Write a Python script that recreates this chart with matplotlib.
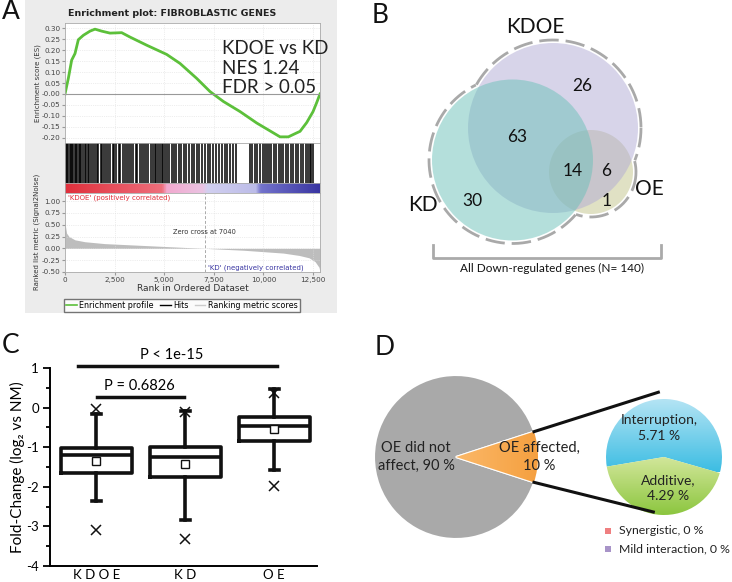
import numpy as np
import matplotlib
matplotlib.use('Agg')
import matplotlib.pyplot as plt
from matplotlib.colors import LinearSegmentedColormap
from matplotlib.lines import Line2D
from matplotlib.patches import Circle, Rectangle

plt.rcParams['font.family'] = ['Lato', 'DejaVu Sans']

W, H = 732, 582

# ---------------- data ----------------
# A: GSEA running enrichment score
es_rank = [0, 168, 336, 504, 672, 924, 1260, 1512, 1848, 2268, 2856, 3276, 4116, 5124,
           5796, 6636, 7308, 7980, 8820, 9660, 10500, 10836, 11256, 11676, 11844, 12180,
           12500, 12680, 12850]
es_score = [0.0, 0.071, 0.154, 0.184, 0.247, 0.267, 0.286, 0.295, 0.286, 0.277, 0.279,
            0.259, 0.222, 0.18, 0.139, 0.071, 0.011, -0.034, -0.08, -0.132, -0.177, -0.195,
            -0.195, -0.177, -0.17, -0.13, -0.08, -0.04, 0.0]
hits = [15, 60, 110, 170, 230, 300, 350, 420, 480, 560, 610, 700, 760, 830, 900, 990, 1060,
        1150, 1230, 1330, 1410, 1500, 1600, 1680, 1790, 1880, 1960, 2080, 2170, 2260, 2400,
        2480, 2590, 2700, 2790, 2900, 3010, 3120, 3240, 3330, 3450, 3560, 3640, 3760, 3880,
        3990, 4080, 4200, 4310, 4420, 4530, 4610, 4700, 4790, 4880, 4960, 5040, 5130, 5250,
        5370, 5480, 5600, 5730, 5850, 5980, 6110, 6240, 6380, 6500, 6630, 6770, 6900, 7040,
        7190, 7330, 7480, 7620, 7760, 7900, 8040, 8180, 8330, 8480, 8640, 9300, 9420, 9560,
        9700, 9830, 9960, 10080, 10190, 10300, 10400, 10520, 10640, 10760, 10880, 11000,
        11120, 11250, 11380, 11500, 11630, 11760, 11880, 12000, 12120, 12240, 12330, 12420,
        12520]
metric_rank = [0, 30, 80, 200, 500, 1000, 2000, 3000, 4000, 5000, 6000, 7040, 8000, 9000,
               10000, 11000, 11800, 12300, 12600, 12800, 12850]
metric_val = [0.6, 0.45, 0.32, 0.25, 0.18, 0.14, 0.1, 0.08, 0.06, 0.04, 0.02, 0.0, -0.02,
              -0.04, -0.07, -0.1, -0.15, -0.2, -0.28, -0.4, -0.5]
zero_cross = 7040
n_genes = 12850

# B: Venn of down-regulated genes
set_names = ['KDOE', 'KD', 'OE']
region_counts = [26, 63, 30, 14, 6, 1]   # KDOE only, KDOE&KD, KD only, all three, KDOE&OE, OE only
total_genes = 140

# C: fold change box plots
box_names = ['K D O E', 'K D', 'O E']
box_q1 = [-1.64, -1.75, -0.85]
box_q3 = [-1.03, -1.00, -0.25]
box_med = [-1.19, -1.26, -0.47]
box_mean = [-1.35, -1.43, -0.54]
whisk_lo = [-2.37, -2.83, -1.58]
whisk_hi = [-0.15, -0.08, 0.47]
box_fliers = [[-0.04, -3.10], [-0.12, -3.31], [0.37, -1.98]]
p_texts = ['P = 0.6826', 'P < 1e-15']

# D: pies
outer_vals = [90, 10]
outer_labels = ['OE did not\naffect, 90 %', 'OE affected,\n10 %']
inner_vals = [5.71, 4.29]
inner_labels = ['Interruption,\n5.71 %', 'Additive,\n4.29 %']
zero_labels = ['Synergistic, 0 %', 'Mild interaction, 0 %']


def px_rect(x0, y0, x1, y1):
    return [x0 / W, 1 - y1 / H, (x1 - x0) / W, (y1 - y0) / H]


def ftext(x, y, s, **kw):
    fig.text(x / W, 1 - y / H, s, **kw)


fig = plt.figure(figsize=(7.32, 5.82), dpi=100)

# ---------------- A ----------------
bg = fig.add_axes(px_rect(25, 0, 337, 313), zorder=-5)
bg.set_facecolor('#ececec')
bg.set_xticks([])
bg.set_yticks([])
for s in bg.spines.values():
    s.set_visible(False)

gsea_font = dict(family='DejaVu Sans')
xt = [0, 2500, 5000, 7500, 10000, 12500]

ax_es = fig.add_axes(px_rect(65, 23, 320, 143))
ax_es.plot(es_rank, es_score, color='#5cc03a', lw=2)
ax_es.axhline(0, color='#999999', lw=0.8)
ax_es.set_xlim(0, n_genes)
ax_es.set_ylim(-0.223, 0.323)
es_ticks = np.round(np.arange(-0.20, 0.31, 0.05), 2)
ax_es.set_yticks(es_ticks)
ax_es.set_yticklabels([f'{v:.2f}' for v in es_ticks], fontsize=5.2, color='#444', **gsea_font)
ax_es.set_xticks(xt)
ax_es.set_xticklabels([])
ax_es.grid(True, color='#dddddd', lw=0.5, ls=':')
ax_es.tick_params(length=2, color='#999', pad=1.5)
ax_es.text(0.615, 0.86, 'KDOE vs KD\nNES 1.24\nFDR > 0.05', transform=ax_es.transAxes,
           fontsize=13.5, va='top', ha='left', linespacing=1.2, color='#222')

ax_h = fig.add_axes(px_rect(65, 143, 320, 183))
ax_h.vlines(hits, 0, 1, color='black', lw=1.1)
ax_h.set_xlim(0, n_genes)
ax_h.set_ylim(0, 1)
ax_h.set_xticks([])
ax_h.set_yticks([])

ax_cb = fig.add_axes(px_rect(65, 183, 320, 193))
rank_cmap = LinearSegmentedColormap.from_list('rank', [
    (0.0, '#e0303c'), (0.38, '#ee6f7c'), (0.40, '#f2a9cf'), (0.54, '#eac3e2'),
    (0.56, '#d2d0f0'), (0.75, '#bcbce8'), (0.77, '#7373cc'), (1.0, '#3a36a2')])
ax_cb.imshow(np.linspace(0, 1, 400)[None, :], aspect='auto', cmap=rank_cmap,
             extent=(0, n_genes, 0, 1))
ax_cb.set_xlim(0, n_genes)
ax_cb.set_xticks([])
ax_cb.set_yticks([])

ax_m = fig.add_axes(px_rect(65, 193, 320, 272))
ax_m.fill_between(metric_rank, metric_val, 0, color='#bdbdbd', lw=0)
ax_m.axvline(zero_cross, color='#aaaaaa', lw=0.7, ls=(0, (3, 2)))
ax_m.set_xlim(0, n_genes)
ax_m.set_ylim(-0.5, 1.17)
m_ticks = np.arange(-0.5, 1.01, 0.25)
ax_m.set_yticks(m_ticks)
ax_m.set_yticklabels([f'{v:.2f}' for v in m_ticks], fontsize=5.2, color='#444', **gsea_font)
ax_m.set_xticks(xt)
ax_m.set_xticklabels([f'{v:,}' for v in xt], fontsize=5.2, color='#444', **gsea_font)
ax_m.grid(True, color='#dddddd', lw=0.5, ls=':')
ax_m.tick_params(length=2, color='#999', pad=1.5)
ax_m.set_xlabel('Rank in Ordered Dataset', fontsize=6.5, color='#333', labelpad=1, **gsea_font)
ax_m.text(150, 1.07, "'KDOE' (positively correlated)", color='#e0303c', fontsize=5,
          va='center', **gsea_font)
ax_m.text(12000, -0.42, "'KD' (negatively correlated)", color='#3a36a2', fontsize=5,
          va='center', ha='right', **gsea_font)
ax_m.text(zero_cross, 0.35, f'Zero cross at {zero_cross}', color='#333', fontsize=4.8,
          ha='center', va='center', **gsea_font)

for a in (ax_es, ax_h, ax_cb, ax_m):
    for s in a.spines.values():
        s.set_color('#aaaaaa')
        s.set_linewidth(0.6)

ftext(172, 14, 'Enrichment plot: FIBROBLASTIC GENES', fontsize=6.8, fontweight='bold',
      ha='center', va='center', color='#222', **gsea_font)
ftext(38, 83, 'Enrichment score (ES)', fontsize=5, rotation=90, ha='center', va='center',
      color='#333', **gsea_font)
ftext(37, 232, 'Ranked list metric (Signal2Noise)', fontsize=5, rotation=90, ha='center',
      va='center', color='#333', **gsea_font)
leg_handles = [Line2D([], [], color='#5cc03a', lw=1.2),
               Line2D([], [], color='black', lw=1),
               Line2D([], [], color='#cccccc', lw=1)]
fig.legend(leg_handles, ['Enrichment profile', 'Hits', 'Ranking metric scores'],
           loc='center', bbox_to_anchor=(182 / W, 1 - 305.5 / H), ncol=3,
           frameon=True, fancybox=False, edgecolor='#555', handlelength=1.3,
           handletextpad=0.3, columnspacing=0.8, borderpad=0.25,
           prop=dict(family='DejaVu Sans', size=5.8))

# ---------------- B ----------------
axb = fig.add_axes(px_rect(300, 0, 732, 300))
axb.set_xlim(300, 732)
axb.set_ylim(300, 0)
axb.axis('off')
cx = [553, 512.5, 591]
cy = [128, 160, 172]
cr = [85, 80.5, 42]
circle_cols = ['#b1abd5', '#6bc1b9', '#c2c48a']
# draw OE first, then KDOE, then KD on top
for i in (2, 0, 1):
    axb.add_patch(Circle((cx[i], cy[i]), cr[i], facecolor=circle_cols[i], alpha=0.5,
                         edgecolor='none'))
pad = 3
for i in range(3):
    t = np.linspace(0, 2 * np.pi, 721)
    xs = cx[i] + (cr[i] + pad) * np.cos(t)
    ys = cy[i] + (cr[i] + pad) * np.sin(t)
    outside = np.ones_like(t, dtype=bool)
    for j in range(3):
        if j != i:
            outside &= np.hypot(xs - cx[j], ys - cy[j]) > cr[j] + pad
    axb.plot(np.where(outside, xs, np.nan), np.where(outside, ys, np.nan), color='#a9a9a9',
             lw=2, ls=(0, (7, 2.5)))

axb.text(535, 33, set_names[0], fontsize=15, ha='center', va='baseline', color='#111')
axb.text(423, 211, set_names[1], fontsize=15, ha='center', va='baseline', color='#111')
axb.text(649, 195, set_names[2], fontsize=15, ha='center', va='baseline', color='#111')
count_pos = [(582, 91), (517, 142), (472, 206), (573, 176), (606, 176), (607, 206)]
for (px, py), c in zip(count_pos, region_counts):
    axb.text(px, py, str(c), fontsize=12.5, ha='center', va='baseline', color='#111')
axb.plot([433, 433, 661, 661], [245, 258, 258, 245], color='#aaaaaa', lw=2)
axb.text(552, 272, f'All Down-regulated genes (N= {total_genes})', fontsize=8.5,
         ha='center', va='baseline', color='#111')

# ---------------- C ----------------
axc = fig.add_axes(px_rect(50, 368, 317, 566))
stats = []
for i in range(3):
    stats.append(dict(med=box_med[i], q1=box_q1[i], q3=box_q3[i], whislo=whisk_lo[i],
                      whishi=whisk_hi[i], mean=box_mean[i], fliers=box_fliers[i],
                      label=box_names[i]))
lw = 2.6
axc.bxp(stats, positions=[1, 2, 3], widths=0.8, showmeans=True, capwidths=0.1,
        boxprops=dict(lw=lw, color='#111'), whiskerprops=dict(lw=lw, color='#111'),
        capprops=dict(lw=lw, color='#111'), medianprops=dict(lw=lw, color='#111'),
        meanprops=dict(marker='s', markerfacecolor='white', markeredgecolor='#111',
                       markersize=6, markeredgewidth=1),
        flierprops=dict(marker='x', markeredgecolor='#111', markersize=7,
                        markeredgewidth=1.1))
axc.set_xlim(0.48, 3.48)
axc.set_ylim(-4, 1)
axc.set_yticks([-4, -3, -2, -1, 0, 1])
axc.set_yticklabels(['-4', '-3', '-2', '-1', '0', '1'], fontsize=9.5)
axc.set_yticks(np.arange(-3.5, 1, 1), minor=True)
axc.tick_params(axis='y', which='major', length=5, width=1.3, direction='out', pad=3)
axc.tick_params(axis='y', which='minor', length=3, width=1.3, direction='out')
axc.tick_params(axis='x', length=0, labelsize=9.5, pad=2)
for s in ('top', 'right'):
    axc.spines[s].set_visible(False)
for s in ('left', 'bottom'):
    axc.spines[s].set_linewidth(1.4)
axc.plot([1.01, 1.98], [0.27, 0.27], color='#111', lw=2.5, clip_on=False)
axc.text(1.48, 0.36, p_texts[0], fontsize=10.5, ha='center', va='bottom')
axc.plot([0.79, 3.03], [1.05, 1.05], color='#111', lw=2.5, clip_on=False)
axc.text(1.85, 1.14, p_texts[1], fontsize=10.5, ha='center', va='bottom')
ftext(17, 467, 'Fold-Change (log\u2082 vs NM)', fontsize=11, rotation=90, ha='center',
      va='center')

# ---------------- D ----------------
axd = fig.add_axes(px_rect(366, 320, 732, 582))
big_c, big_r = (456, 125), 82
small_c, small_r = (664, 125), 58
w_out, _ = axd.pie(outer_vals, colors=['#a9a9a9', '#f7a64a'], startangle=18,
                   center=big_c, radius=big_r,
                   wedgeprops=dict(edgecolor='white', linewidth=1.5))
w_in, _ = axd.pie(inner_vals, colors=['#5cc8e8', '#b5d66a'], startangle=-16,
                  center=small_c, radius=small_r,
                  wedgeprops=dict(edgecolor='white', linewidth=2.5))


def grad_fill(wedge, c0, c1, extent, horizontal=False):
    g = np.linspace(0, 1, 200)
    arr = g[None, :] if horizontal else g[::-1][:, None]
    im = axd.imshow(arr, extent=extent, cmap=LinearSegmentedColormap.from_list('g', [c0, c1]),
                    aspect='auto', zorder=wedge.get_zorder() + 0.1, origin='upper')
    im.set_clip_path(wedge)


grad_fill(w_out[1], '#fbb868', '#f5a040', (big_c[0], big_c[0] + big_r, 90, 160),
          horizontal=True)
sx0, sx1 = small_c[0] - small_r, small_c[0] + small_r
grad_fill(w_in[0], '#3cbde3', '#b4e4f4', (sx0, sx1, small_c[1] - 15, small_c[1] + small_r))
grad_fill(w_in[1], '#8cc63f', '#d8e9a2', (sx0, sx1, small_c[1] - small_r, small_c[1] + 5))

# connector lines from the 10 % slice to the breakdown pie
half = np.deg2rad(outer_vals[1] / 100 * 180)
for sgn, ang, rr in ((1, 95, 65), (-1, -101, 56)):
    p0 = (big_c[0] + big_r * np.cos(half), big_c[1] + sgn * big_r * np.sin(half))
    p1 = (small_c[0] + rr * np.cos(np.deg2rad(ang)), small_c[1] + rr * np.sin(np.deg2rad(ang)))
    axd.plot([p0[0], p1[0]], [p0[1], p1[1]], color='#111', lw=2.2, zorder=5)

axd.text(416, 125, outer_labels[0], fontsize=10.5, ha='center', va='center',
         linespacing=1.3, color='#222', zorder=6)
axd.text(539, 125, outer_labels[1], fontsize=10.5, ha='center', va='center',
         linespacing=1.3, color='#222', zorder=6)
axd.text(659, 154, inner_labels[0], fontsize=10, ha='center', va='center',
         linespacing=1.3, color='#222', zorder=6)
axd.text(668, 94, inner_labels[1], fontsize=10, ha='center', va='center',
         linespacing=1.3, color='#222', zorder=6)
for (yy, col, lab) in ((51, '#ef7f80', zero_labels[0]), (33, '#a894c8', zero_labels[1])):
    axd.add_patch(Rectangle((605, yy - 3), 6, 6, facecolor=col, edgecolor='none'))
    axd.text(619, yy, lab, fontsize=8.8, va='center', color='#222')
axd.set_xlim(366, 732)
axd.set_ylim(0, 262)
axd.set_aspect('equal')
axd.axis('off')

# panel letters
for lx, ly, lab in ((2, 19, 'A'), (372, 23, 'B'), (2, 353, 'C'), (375, 355, 'D')):
    ftext(lx, ly, lab, fontsize=19, va='baseline', ha='left', color='#111')

fig.savefig('out.png', dpi=100)
